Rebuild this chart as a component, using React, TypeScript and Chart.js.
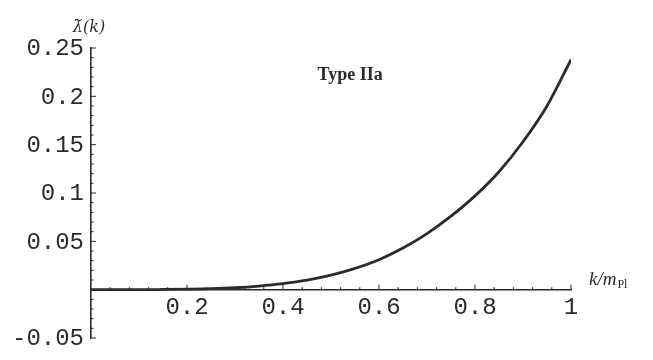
import React, { useEffect, useRef } from 'react';
import { Chart, registerables } from 'chart.js';

Chart.register(...registerables);

// k / m_Pl sample positions
const kValues = [0, 0.05, 0.1, 0.15, 0.2, 0.25, 0.3, 0.35, 0.4, 0.45, 0.5, 0.55, 0.6, 0.65, 0.7, 0.75, 0.8, 0.85, 0.9, 0.95, 1.0];
// λ̆(k)
const lambdaValues = [0, 0, 0, 0.0002, 0.0005, 0.001, 0.002, 0.0037, 0.0062, 0.0098, 0.015, 0.022, 0.031, 0.043, 0.058, 0.076, 0.097, 0.122, 0.153, 0.19, 0.238];

const xTickValues = [0.2, 0.4, 0.6, 0.8, 1];
const xTickLabels = ['0.2', '0.4', '0.6', '0.8', '1'];
const yTickValues = [-0.05, 0.05, 0.1, 0.15, 0.2, 0.25];
const yTickLabels = ['-0.05', '0.05', '0.1', '0.15', '0.2', '0.25'];

const yAxisTitle = 'λ\u0306(k)';
const xAxisTitleMain = 'k/m';
const xAxisTitleSub = 'Pl';
const annotationText = 'Type IIa';
const annotationX = 0.54;
const annotationY = 0.222;

const INK = '#2b2b2b';
const TICK_FONT = '24px "Liberation Mono"';

const decorPlugin = {
  id: 'decor',
  afterDatasetsDraw(chart: any) {
    const { ctx, scales } = chart;
    const xs = scales.x;
    const ys = scales.y;
    const x0 = xs.getPixelForValue(0);
    const y0 = ys.getPixelForValue(0);
    ctx.save();
    ctx.strokeStyle = INK;
    ctx.lineWidth = 1;
    // x ticks (pointing up)
    for (let i = 1; i <= 25; i++) {
      const v = i * 0.04;
      const px = xs.getPixelForValue(v);
      const major = i % 5 === 0;
      ctx.beginPath();
      ctx.moveTo(px, y0);
      ctx.lineTo(px, y0 - (major ? 5 : 2.5));
      ctx.stroke();
    }
    // y ticks (pointing right)
    for (let i = -5; i <= 25; i++) {
      if (i === 0) continue;
      const v = i * 0.01;
      const py = ys.getPixelForValue(v);
      const major = i % 5 === 0;
      ctx.beginPath();
      ctx.moveTo(x0, py);
      ctx.lineTo(x0 + (major ? 5 : 2.5), py);
      ctx.stroke();
    }
    ctx.fillStyle = INK;
    // y tick labels
    ctx.font = TICK_FONT;
    ctx.textAlign = 'right';
    ctx.textBaseline = 'middle';
    yTickValues.forEach((v, i) => {
      ctx.fillText(yTickLabels[i], x0 - 7, ys.getPixelForValue(v) + 1);
    });
    // y axis title
    ctx.font = 'italic 16px "DejaVu Serif"';
    ctx.textAlign = 'center';
    ctx.textBaseline = 'alphabetic';
    ctx.fillText(yAxisTitle, x0 - 2, ys.getPixelForValue(0.25) - 16);
    // x axis title
    const xEnd = xs.getPixelForValue(1);
    ctx.textAlign = 'left';
    ctx.font = 'italic 19px "Liberation Serif"';
    const tx = xEnd + 18;
    const ty = y0 - 5;
    ctx.fillText(xAxisTitleMain, tx, ty);
    const w = ctx.measureText(xAxisTitleMain).width;
    ctx.font = '12px "Liberation Serif"';
    ctx.fillText(xAxisTitleSub, tx + w + 1, ty + 3);
    // annotation
    ctx.font = 'bold 18px "Liberation Serif"';
    ctx.textAlign = 'center';
    ctx.textBaseline = 'middle';
    ctx.fillText(annotationText, xs.getPixelForValue(annotationX), ys.getPixelForValue(annotationY));
    ctx.restore();
  },
};

export default function App() {
  const ref = useRef<HTMLCanvasElement | null>(null);
  useEffect(() => {
    if (!ref.current) return;
    const chart = new Chart(ref.current, {
      type: 'line',
      data: {
        datasets: [
          {
            data: kValues.map((k, i) => ({ x: k, y: lambdaValues[i] })),
            borderColor: INK,
            borderWidth: 2.8,
            pointRadius: 0,
            fill: false,
            cubicInterpolationMode: 'monotone',
          },
        ],
      },
      options: {
        animation: false,
        responsive: true,
        maintainAspectRatio: false,
        layout: { padding: { left: 91, right: 82, top: 48, bottom: 22 } },
        plugins: { legend: { display: false }, tooltip: { enabled: false } },
        scales: {
          x: {
            type: 'linear',
            min: 0,
            max: 1,
            position: { y: 0 },
            afterBuildTicks: (s: any) => {
              s.ticks = xTickValues.map((v) => ({ value: v }));
            },
            ticks: {
              autoSkip: false,
              maxRotation: 0,
              padding: 4,
              color: INK,
              font: { family: '"Liberation Mono"', size: 24 },
              callback: (v: any) => {
                const i = xTickValues.findIndex((t) => Math.abs(t - v) < 1e-9);
                return i >= 0 ? xTickLabels[i] : '';
              },
            },
            grid: { display: true, drawOnChartArea: false, drawTicks: false },
            border: { display: true, color: INK, width: 1.6 },
          },
          y: {
            type: 'linear',
            min: -0.05,
            max: 0.25,
            position: { x: 0 },
            afterBuildTicks: (s: any) => {
              s.ticks = yTickValues.map((v) => ({ value: v }));
            },
            ticks: { display: false },
            grid: { display: true, drawOnChartArea: false, drawTicks: false },
            border: { display: true, color: INK, width: 1.6 },
          },
        },
      },
      plugins: [decorPlugin],
    } as any);
    return () => chart.destroy();
  }, []);
  return (
    <div style={{ position: 'absolute', left: 0, top: 0, width: 653, height: 360, background: '#fff' }}>
      <canvas ref={ref} />
    </div>
  );
}
